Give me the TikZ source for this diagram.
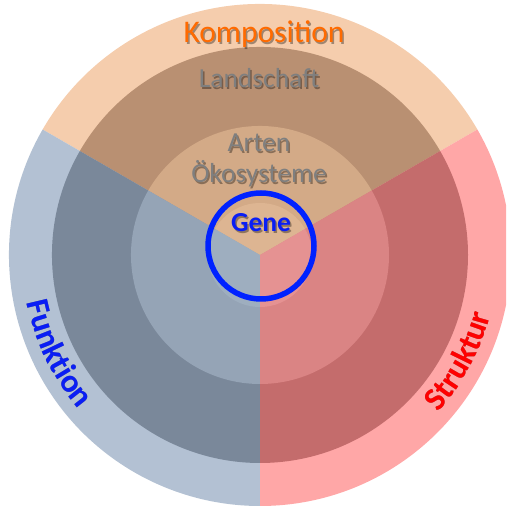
\documentclass[tikz,border=0pt]{standalone}
\usepackage{fontspec}
\setmainfont{Carlito}
\usetikzlibrary{decorations.text}
\definecolor{tOut}{HTML}{F5CDAD}
\definecolor{tMid}{HTML}{B99072}
\definecolor{tIn}{HTML}{D3AA87}
\definecolor{tCore}{HTML}{DDB592}
\definecolor{lOut}{HTML}{B3C1D3}
\definecolor{lMid}{HTML}{7A889A}
\definecolor{lIn}{HTML}{95A4B6}
\definecolor{lCore}{HTML}{9EAEBF}
\definecolor{rOut}{HTML}{FFA7A7}
\definecolor{rMid}{HTML}{C46C6C}
\definecolor{rIn}{HTML}{DA8484}
\definecolor{rCore}{HTML}{E59292}
\definecolor{orangeTxt}{HTML}{FF6A00}
\definecolor{grayTxt}{HTML}{7F7F7F}
\definecolor{blueTxt}{HTML}{0A1EF5}
\definecolor{redTxt}{HTML}{FF0000}
\definecolor{ringBlue}{HTML}{0022FF}
\newcommand\mysector[4]{\fill[#4] (C) -- ([shift={(#1:#3pt)}]C) arc[start angle=#1,end angle=#2,radius=#3pt] -- cycle;}
\newcommand\bigfont{\fontsize{31.5}{31.5}\selectfont}
\newcommand\midfont{\fontsize{27.5}{27.5}\selectfont}
\newcommand\genefont{\fontsize{27.5}{27.5}\selectfont\bfseries}
\newcommand\arcfont{\fontsize{32.5}{32.5}\selectfont\bfseries}
\tikzset{
  lbl/.style={anchor=base, inner sep=0pt},
  shadowtxt/.style={lbl, text=black, opacity=0.35},
  bluering/.style={draw=ringBlue, line width=5.5pt},
}
\begin{document}
\begin{tikzpicture}[x=1pt,y=1pt]
\useasboundingbox (0,0) rectangle (506,508);
\clip (0,0) rectangle (506,508);
\coordinate (C) at (260,253);
% outer ring
\mysector{30}{150}{251}{tOut}
\mysector{150}{270}{251}{lOut}
\mysector{270}{390}{251}{rOut}
% middle ring
\mysector{30}{150}{208}{tMid}
\mysector{150}{270}{208}{lMid}
\mysector{270}{390}{208}{rMid}
% inner ring
\mysector{30}{150}{129}{tIn}
\mysector{150}{270}{129}{lIn}
\mysector{270}{390}{129}{rIn}
% core
\mysector{30}{150}{52}{tCore}
\mysector{150}{270}{52}{lCore}
\mysector{270}{390}{52}{rCore}
% texts with shadows
\node[shadowtxt, font=\bigfont] at (265.5,463.5) {Komposition};
\node[lbl, font=\bigfont, text=orangeTxt] (komp) at (264,465) {Komposition};
\node[shadowtxt, font=\midfont] at (260.5,418.5) {Landschaft};
\node[lbl, font=\midfont, text=grayTxt] (land) at (259,420) {Landschaft};
\node[shadowtxt, font=\midfont] at (260.5,354.5) {Arten};
\node[lbl, font=\midfont, text=grayTxt] (arten) at (259,356) {Arten};
\node[shadowtxt, font=\midfont] at (260.5,323.5) {Ökosysteme};
\node[lbl, font=\midfont, text=grayTxt] (oeko) at (259,325) {Ökosysteme};
\node[shadowtxt, font=\genefont] at (262.5,274.5) {Gene};
\node[lbl, font=\genefont, text=blueTxt] (gene) at (261,276) {Gene};
% blue ring
\draw[bluering] (261,262) circle[radius=53];
% curved labels
\begin{scope}[shift={(1.5,-1.5)}, opacity=0.4]
\path[decorate, decoration={text along path, text={|\arcfont|Funktion}, text align=center, text color=black}]
  ([shift={(185:238pt)}]C) arc[start angle=185, end angle=227, radius=238pt];
\path[decorate, decoration={text along path, text={|\arcfont|Struktur}, text align=center, text color=black}]
  ([shift={(311:238pt)}]C) arc[start angle=311, end angle=353, radius=238pt];
\end{scope}
\path[decorate, decoration={text along path, text={|\arcfont|Funktion}, text align=center, text color=blueTxt}]
  ([shift={(185:238pt)}]C) arc[start angle=185, end angle=227, radius=238pt];
\path[decorate, decoration={text along path, text={|\arcfont|Struktur}, text align=center, text color=redTxt}]
  ([shift={(311:238pt)}]C) arc[start angle=311, end angle=353, radius=238pt];
\end{tikzpicture}
\end{document}
